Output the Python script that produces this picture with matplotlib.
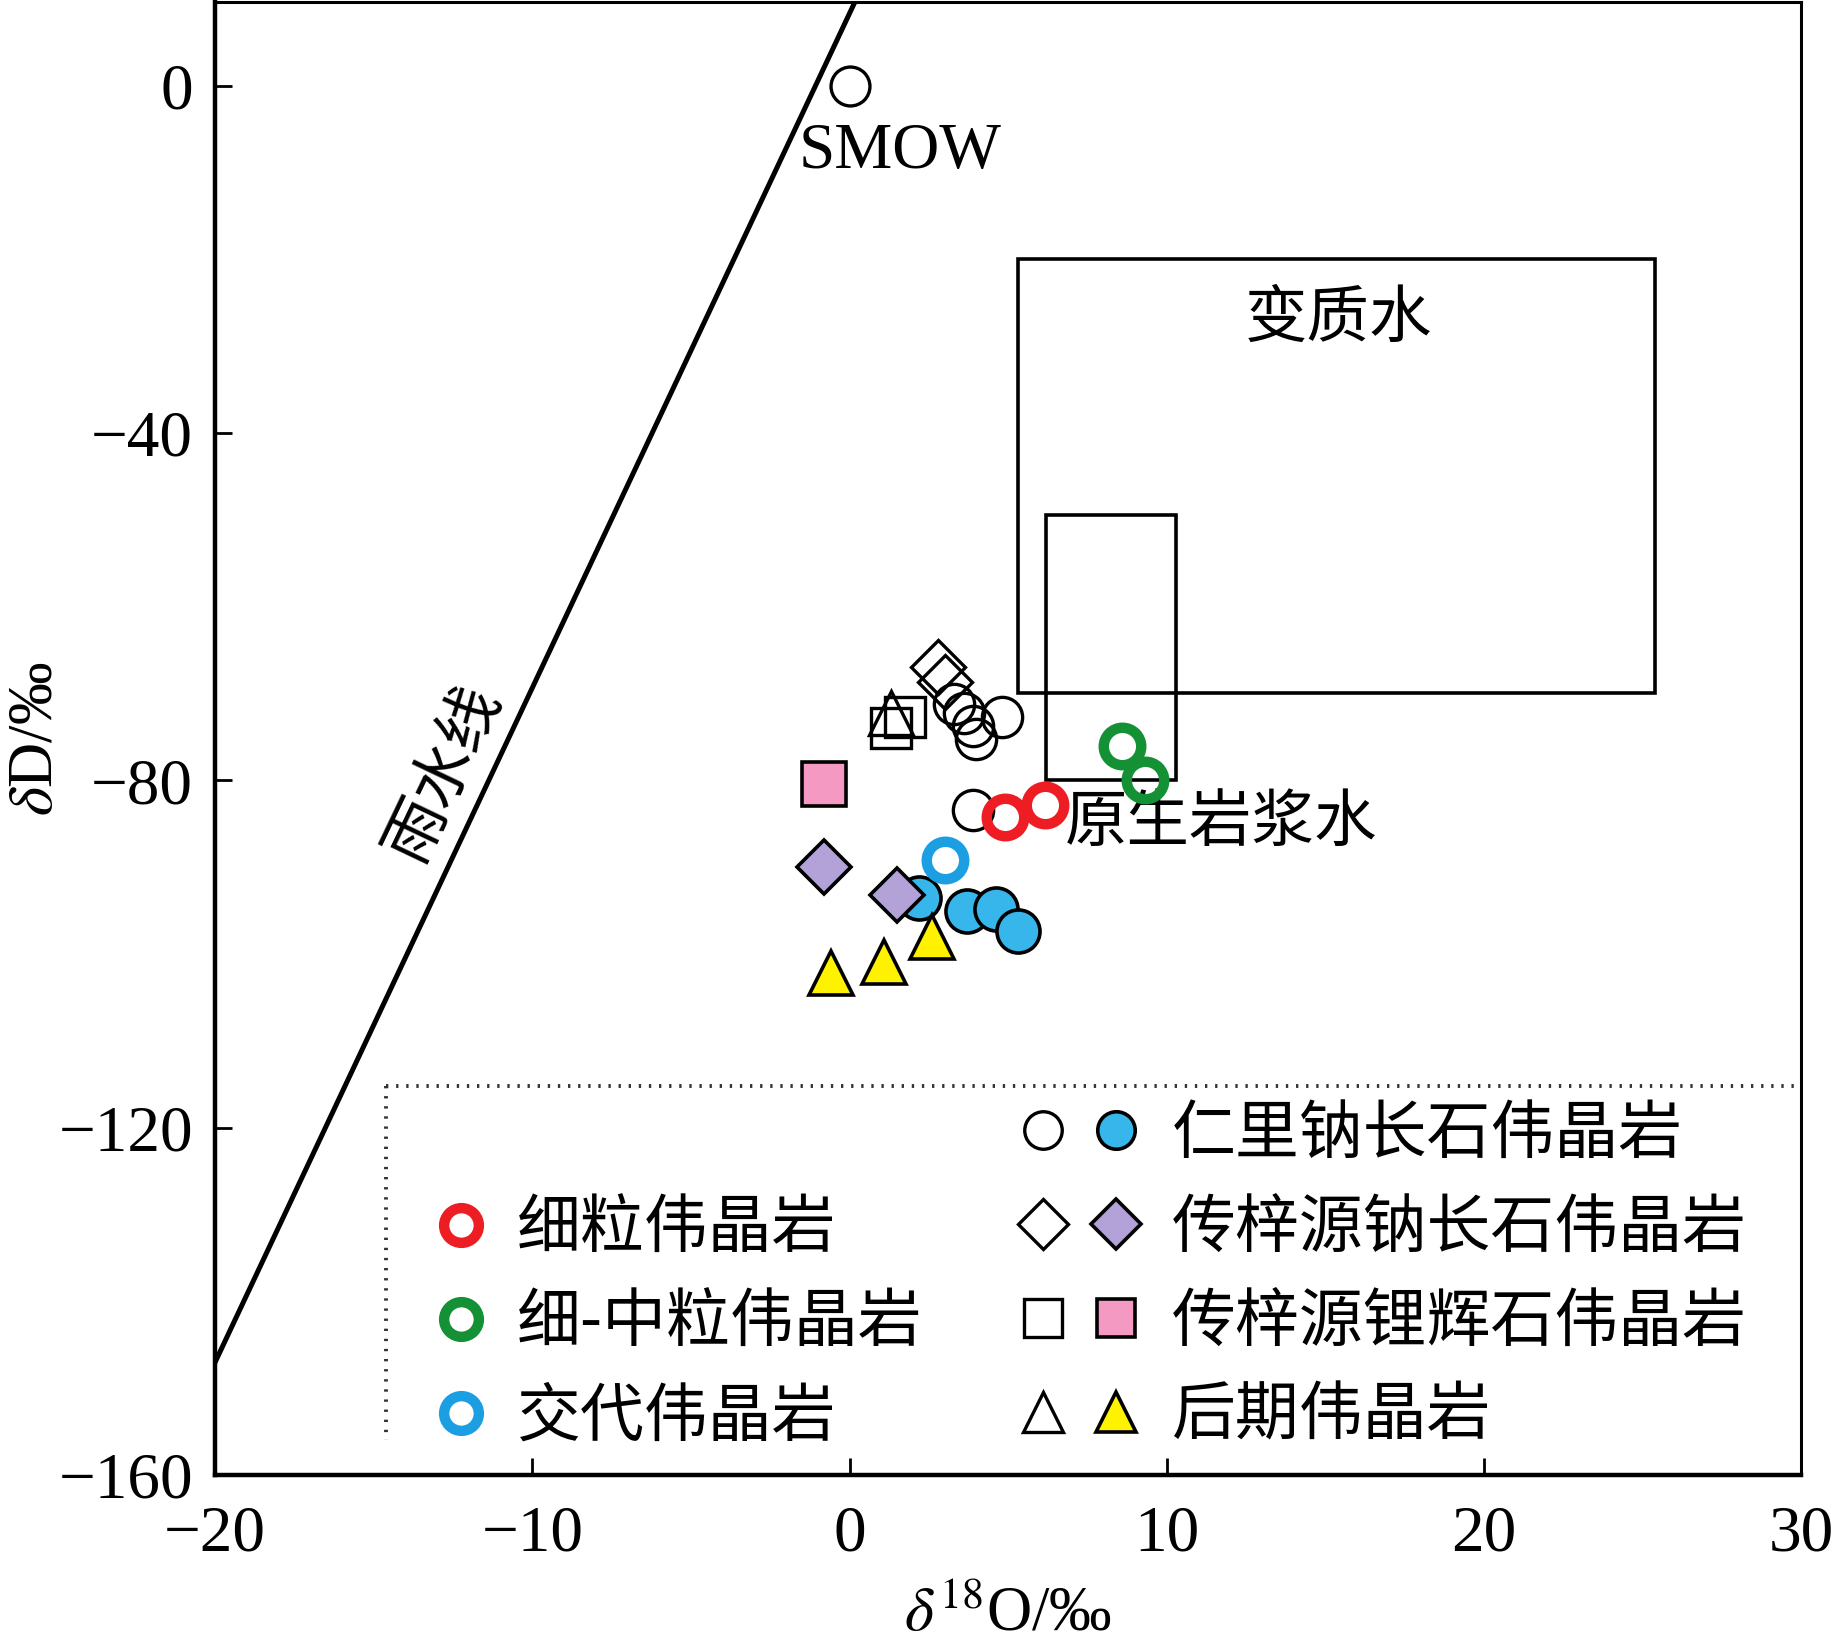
import matplotlib
matplotlib.use('Agg')
import matplotlib.pyplot as plt
from matplotlib.lines import Line2D
from matplotlib.patches import Rectangle
from matplotlib.legend_handler import HandlerTuple

plt.rcParams['font.family'] = ['Liberation Serif', 'Noto Sans CJK SC', 'DejaVu Sans']
plt.rcParams['mathtext.fontset'] = 'stix'
CJK = ['Noto Sans CJK SC', 'DejaVu Sans']

# ---------------- data ----------------
smow_x = [0.0]
smow_y = [0.0]
renli_open_x = [3.3, 3.6, 3.9, 4.0, 4.8, 3.9]
renli_open_y = [-71.2, -72.3, -73.7, -75.2, -72.7, -83.4]
renli_fill_x = [2.2, 3.7, 4.6, 5.3]
renli_fill_y = [-93.6, -95.0, -94.8, -97.3]
czy_ab_open_x = [2.8, 3.0]
czy_ab_open_y = [-66.9, -68.7]
czy_ab_fill_x = [-0.8, 1.5]
czy_ab_fill_y = [-90.0, -93.2]
czy_spd_open_x = [1.3, 1.75]
czy_spd_open_y = [-74.0, -72.7]
czy_spd_fill_x = [-0.8]
czy_spd_fill_y = [-80.4]
late_open_x = [1.3]
late_open_y = [-72.2]
late_fill_x = [-0.6, 1.1, 2.6]
late_fill_y = [-102.2, -100.9, -98.0]
fine_x = [4.9, 6.15]
fine_y = [-84.2, -82.9]
finemed_x = [8.6, 9.3]
finemed_y = [-76.1, -80.0]
metaso_x = [3.0]
metaso_y = [-89.2]

# meteoric water line end points
mwl_x = [-20.0, 0.2]
mwl_y = [-147.0, 9.9]
# field boxes (x0, x1, y0, y1)
meta_box = [5.3, 25.4, -70.0, -20.0]
magma_box = [6.2, 10.3, -80.0, -49.5]

xticks = [-20, -10, 0, 10, 20, 30]
yticks = [0, -40, -80, -120, -160]

labels_left = ['细粒伟晶岩', '细-中粒伟晶岩', '交代伟晶岩']
labels_right = ['仁里钠长石伟晶岩', '传梓源钠长石伟晶岩', '传梓源锂辉石伟晶岩', '后期伟晶岩']

# ---------------- styles ----------------
RED = '#ee1d23'
GREEN = '#149035'
RBLUE = '#1c9fe2'
FBLUE = '#36b6ea'
PURPLE = '#b3a2d8'
PINK = '#f49ac2'
YELLOW = '#fff200'

FS = 45
TFS = 47
LFS = 46

fig = plt.figure(figsize=(18.34, 16.42), dpi=100)
ax = fig.add_axes([0.11734, 0.10177, 0.86478, 0.8968])
ax.set_xlim(-20, 30)
ax.set_ylim(-160, 9.6)

# meteoric water line
ax.plot(mwl_x, mwl_y, color='black', lw=3.6, zorder=2, clip_on=True)
# boxes
for (x0, x1, y0, y1) in [meta_box, magma_box]:
    ax.add_patch(Rectangle((x0, y0), x1 - x0, y1 - y0, fill=False,
                           ec='black', lw=2.6, zorder=2))

open_kw = dict(ls='none', mfc='none', mec='black', mew=2.4)
fill_kw = dict(ls='none', mec='black', mew=2.6)
ring_kw = dict(ls='none', mfc='none', mew=7.5)

h_smow, = ax.plot(smow_x, smow_y, marker='o', ms=28, zorder=3, **open_kw)
h_ro, = ax.plot(renli_open_x, renli_open_y, marker='o', ms=29, zorder=3, **open_kw)
h_do, = ax.plot(czy_ab_open_x, czy_ab_open_y, marker='D', ms=27, zorder=3, **open_kw)
h_so, = ax.plot(czy_spd_open_x, czy_spd_open_y, marker='s', ms=29, zorder=3, **open_kw)
h_to, = ax.plot(late_open_x, late_open_y, marker='^', ms=31, zorder=3, **open_kw)
h_red, = ax.plot(fine_x, fine_y, marker='o', ms=27, mec=RED, zorder=4, **ring_kw)
h_green, = ax.plot(finemed_x, finemed_y, marker='o', ms=27, mec=GREEN, zorder=4, **ring_kw)
h_rf, = ax.plot(renli_fill_x, renli_fill_y, marker='o', ms=31, mfc=FBLUE, zorder=4, **fill_kw)
h_df, = ax.plot(czy_ab_fill_x, czy_ab_fill_y, marker='D', ms=27, mfc=PURPLE, zorder=5, **fill_kw)
h_blue, = ax.plot(metaso_x, metaso_y, marker='o', ms=27, mec=RBLUE, zorder=5, **ring_kw)
h_sf, = ax.plot(czy_spd_fill_x, czy_spd_fill_y, marker='s', ms=31, mfc=PINK, zorder=5, **fill_kw)
h_tf, = ax.plot(late_fill_x, late_fill_y, marker='^', ms=31, mfc=YELLOW, zorder=6, **fill_kw)

# annotations
ax.text(1.6, -7.7, 'SMOW', fontsize=47, ha='center', va='center',
        family=['Liberation Serif'])
ax.text(15.4, -26.8, '变质水', fontsize=FS, ha='center', va='center', family=CJK)
ax.text(11.7, -84.9, '原生岩浆水', fontsize=FS, ha='center', va='center', family=CJK)
ax.text(-12.8, -79.1, '雨水线', fontsize=FS, ha='center', va='center', family=CJK,
        rotation=64.5, rotation_mode='anchor')

# dotted legend border (top and left)
ax.plot([0.1077, 1.0], [0.264, 0.264], transform=ax.transAxes, color='#333333',
        ls=(0, (0.6, 2.0)), lw=2.8, zorder=2)
ax.plot([0.1077, 0.1077], [0.264, 0.0238], transform=ax.transAxes, color='#333333',
        ls=(0, (0.6, 2.0)), lw=2.8, zorder=2)

# legends
blank = Line2D([], [], ls='none')
def mk(marker, ms, **kw):
    return Line2D([], [], ls='none', marker=marker, ms=ms, **kw)

leg_open_c = mk('o', 27, mfc='white', mec='black', mew=2.4)
leg_fill_c = mk('o', 27, mfc=FBLUE, mec='black', mew=2.6)
leg_open_d = mk('D', 25, mfc='white', mec='black', mew=2.4)
leg_fill_d = mk('D', 25, mfc=PURPLE, mec='black', mew=2.6)
leg_open_s = mk('s', 27, mfc='white', mec='black', mew=2.4)
leg_fill_s = mk('s', 27, mfc=PINK, mec='black', mew=2.6)
leg_open_t = mk('^', 29, mfc='white', mec='black', mew=2.4)
leg_fill_t = mk('^', 29, mfc=YELLOW, mec='black', mew=2.6)
leg_red = mk('o', 25, mfc='none', mec=RED, mew=7.5)
leg_green = mk('o', 25, mfc='none', mec=GREEN, mew=7.5)
leg_blue = mk('o', 25, mfc='none', mec=RBLUE, mew=7.5)

common = dict(frameon=False, borderpad=0, borderaxespad=0, handlelength=2.3,
              handletextpad=0.3, labelspacing=0.43,
              handler_map={tuple: HandlerTuple(ndivide=None, pad=0)},
              prop={'family': CJK, 'size': LFS})

leg1 = ax.legend([(blank, leg_red), (blank, leg_green), (blank, leg_blue)],
                 labels_left, loc='center left', bbox_to_anchor=(0.0855, 0.1030),
                 **common)
ax.add_artist(leg1)
leg2 = ax.legend([(leg_open_c, leg_fill_c), (leg_open_d, leg_fill_d),
                  (leg_open_s, leg_fill_s), (leg_open_t, leg_fill_t)],
                 labels_right, loc='center left', bbox_to_anchor=(0.4985, 0.1355),
                 **common)

# axes styling
ax.set_xticks(xticks)
ax.set_yticks(yticks)
ax.tick_params(direction='in', length=12, width=2, labelsize=TFS)
ax.tick_params(axis='x', pad=22)
ax.tick_params(axis='y', pad=16)
for s in ['left', 'bottom']:
    ax.spines[s].set_linewidth(3.2)
for s in ['top', 'right']:
    ax.spines[s].set_linewidth(2.2)

ax.set_xlabel(r'$\delta^{18}$O/‰', fontsize=FS)
ax.set_ylabel(r'$\delta$D/‰', fontsize=FS)
ax.xaxis.set_label_coords(0.5, -0.076)
ax.yaxis.set_label_coords(-0.094, 0.5)

fig.savefig('out.png', dpi=100)
